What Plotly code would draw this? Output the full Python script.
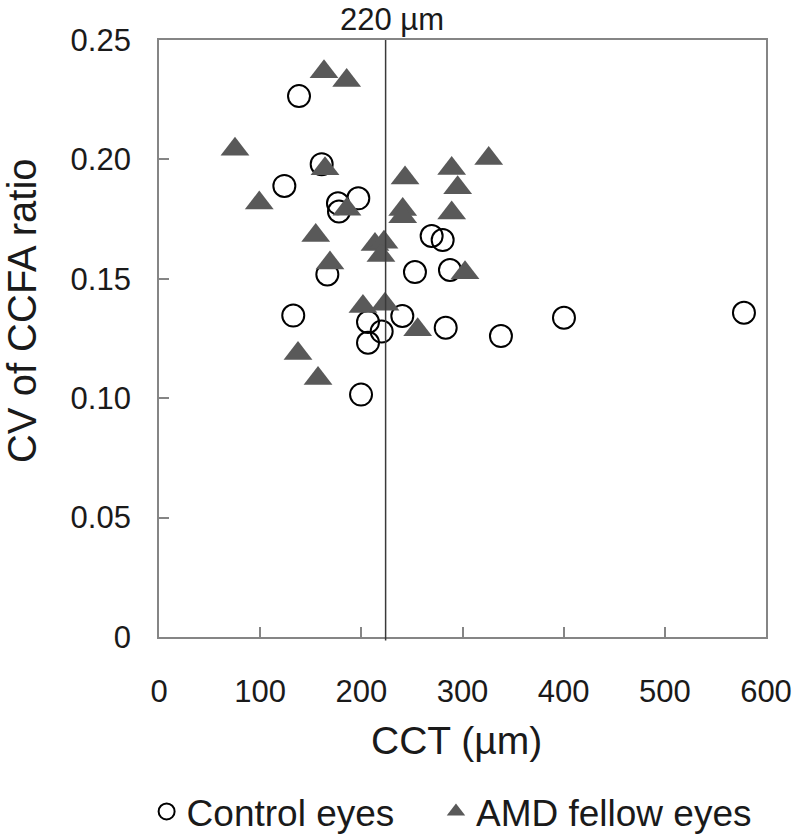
import plotly.graph_objects as go

# Control eyes (open circles)
control_cct = [138.4, 123.9, 160.8, 176.9, 177.9, 197.0, 166.4, 132.7, 206.6, 220.1,
               206.6, 240.5, 283.4, 338.0, 199.7, 400.3, 578.2, 269.5, 280.4, 253.0, 287.6]
control_cv = [0.2265, 0.1889, 0.1980, 0.1816, 0.1782, 0.1837, 0.1518, 0.1346, 0.1319, 0.1279,
              0.1232, 0.1344, 0.1295, 0.1260, 0.1015, 0.1337, 0.1358, 0.1679, 0.1662, 0.1528, 0.1537]

# AMD fellow eyes (filled triangles)
amd_cct = [163.1, 185.5, 75.1, 164.1, 99.1, 185.8, 154.9, 169.0, 213.5, 222.4, 219.4, 201.6,
           223.4, 255.7, 157.2, 137.4, 243.2, 240.9, 240.9, 289.3, 295.2, 289.3, 325.9, 302.5]
amd_cv = [0.2367, 0.2330, 0.2043, 0.1961, 0.1817, 0.1791, 0.1681, 0.1566, 0.1644, 0.1653, 0.1598, 0.1384,
          0.1393, 0.1287, 0.1082, 0.1187, 0.1922, 0.1790, 0.1760, 0.1962, 0.1881, 0.1776, 0.2004, 0.1525]

x_ticks = [0, 100, 200, 300, 400, 500, 600]
y_ticks = [0, 0.05, 0.10, 0.15, 0.20, 0.25]
y_tick_labels = ["0", "0.05", "0.10", "0.15", "0.20", "0.25"]
cutoff_x = 224
cutoff_label = "220 µm"

FONT = "Liberation Sans, Arial, sans-serif"
AXIS_COLOR = "#858585"
TEXT_COLOR = "#1a1a1a"

fig = go.Figure()
fig.add_trace(go.Scatter(
    x=control_cct, y=control_cv, mode="markers", name="Control eyes", legend="legend",
    marker=dict(symbol="circle-open", size=22, color="black", line=dict(width=2, color="black")),
))
fig.add_trace(go.Scatter(
    x=amd_cct, y=amd_cv, mode="markers", name="AMD fellow eyes", legend="legend2",
    marker=dict(symbol="triangle-up", size=25, color="#595959", line=dict(width=0)),
))

fig.add_shape(type="line", xref="x", yref="paper", x0=cutoff_x, x1=cutoff_x, y0=-0.006, y1=1,
              line=dict(color="#3a3a3a", width=1.5), layer="above")

fig.add_annotation(x=cutoff_x, xref="x", y=1, yref="paper", yanchor="bottom", yshift=1, xshift=6,
                   text=cutoff_label, showarrow=False, font=dict(family=FONT, size=31, color=TEXT_COLOR))

fig.add_annotation(x=0, xref="paper", xshift=-137, y=0.546, yref="paper", textangle=-90,
                   xanchor="center", yanchor="middle", text="CV of CCFA ratio", showarrow=False,
                   font=dict(family=FONT, size=40, color=TEXT_COLOR))

fig.add_annotation(x=0.49, xref="paper", y=0, yref="paper", yshift=-103, yanchor="middle",
                   text="CCT (µm)", showarrow=False, font=dict(family=FONT, size=39, color=TEXT_COLOR))

fig.update_xaxes(range=[0, 600], tickvals=x_ticks, ticks="inside", ticklen=10, tickwidth=1.5,
                 tickcolor=AXIS_COLOR, showline=True, linecolor=AXIS_COLOR, linewidth=1.8, mirror=True,
                 showgrid=False, zeroline=False, ticklabelstandoff=26,
                 tickfont=dict(family=FONT, size=31, color=TEXT_COLOR))
fig.update_yaxes(range=[0, 0.25], tickvals=y_ticks, ticktext=y_tick_labels, ticks="inside", ticklen=10,
                 tickwidth=1.5, tickcolor=AXIS_COLOR, showline=True, linecolor=AXIS_COLOR, linewidth=1.8,
                 mirror=True, showgrid=False, zeroline=False, ticklabelstandoff=20,
                 tickfont=dict(family=FONT, size=31, color=TEXT_COLOR))

legend_style = dict(orientation="h", xanchor="left", y=-0.293, yanchor="middle",
                    font=dict(family=FONT, size=37, color=TEXT_COLOR), itemsizing="trace",
                    bgcolor="rgba(0,0,0,0)")

fig.update_layout(
    width=795, height=840, plot_bgcolor="white", paper_bgcolor="white",
    margin=dict(l=159, r=29, t=40, b=203, autoexpand=False),
    showlegend=True,
    legend=dict(x=-0.0204, **legend_style),
    legend2=dict(x=0.4563, **legend_style),
)

fig.write_html("out.html", config={"displayModeBar": False},
               post_script="document.body.style.margin='0px';")
